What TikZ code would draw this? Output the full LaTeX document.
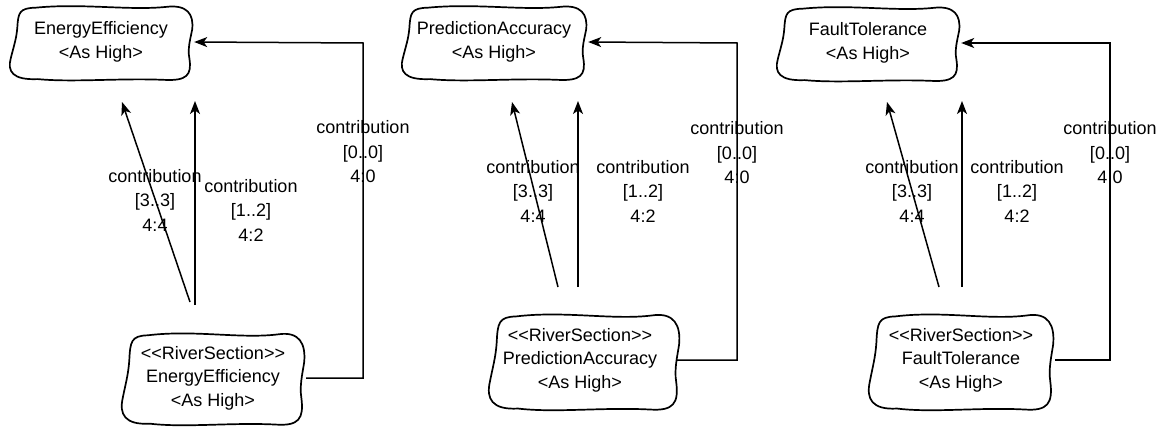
\documentclass[tikz,border=0pt]{standalone}
\usepackage{fontspec}
\setmainfont{Liberation Sans}
\usetikzlibrary{arrows.meta,calc}
\tikzset{
  boxline/.style={line width=1.7pt, line join=round},
  txt/.style={align=center, inner sep=0pt, font=\fontsize{18}{23.5}\selectfont},
  lbl/.style={align=center, inner sep=0pt, font=\fontsize{18}{24.5}\selectfont},
  conn/.style={line width=1.5pt},
  arr/.style={conn, -{Stealth[length=13pt,width=10pt,inset=3.5pt]}}
}
\newcommand{\wavybox}[4]{%
  \begin{scope}[shift={(#1,#2)},xscale=#3,yscale=#4]
  \draw[boxline] (-0.7,-0.93) .. controls (-0.2,-1.05) and (0.3,-0.85) .. (0.7,-0.95)
   .. controls (0.93,-1.02) and (1.0,-0.75) .. (0.98,-0.35)
   .. controls (0.96,-0.1) and (0.93,0.15) .. (0.95,0.4)
   .. controls (0.98,0.85) and (0.92,1.0) .. (0.68,0.97)
   .. controls (0.2,0.92) and (-0.3,1.04) .. (-0.68,0.95)
   .. controls (-0.95,0.98) and (-1.01,0.75) .. (-0.97,0.4)
   .. controls (-0.94,0.1) and (-0.91,-0.1) .. (-0.9,-0.4)
   .. controls (-0.89,-0.8) and (-0.88,-0.92) .. (-0.7,-0.93) -- cycle;
  \end{scope}}
\begin{document}
\begin{tikzpicture}[x=1pt,y=-1pt]
\useasboundingbox (0,0) rectangle (1165,428);
% ---------- group 1 ----------
\wavybox{101}{43}{93}{38}
\node[txt, minimum width=186pt, minimum height=76pt] (t1) at (101,42) {EnergyEfficiency\\<As High>};
\wavybox{213}{379}{93}{47}
\node[txt, minimum width=186pt, minimum height=94pt] (b1) at (213,378) {<\kern0pt<RiverSection>\kern0pt>\\EnergyEfficiency\\<As High>};
\coordinate (s1a) at (190,302); \coordinate (e1a) at (122,102);
\coordinate (s1b) at (195,305); \coordinate (e1b) at (195,101);
\coordinate (k1) at (363,43);
\draw[arr] (s1a) -- (e1a);
\draw[arr] (s1b) -- (e1b);
\draw[arr] (b1.east) -| (k1) -- (t1.east);
\node[lbl] (l1a) at (155,200) {contribution\\{[3..3]}\\4:4};
\node[lbl] (l1b) at (251,210) {contribution\\{[1..2]}\\4:2};
\node[lbl] (l1c) at (363,152) {contribution\\{[0..0]}\\4:0};
% ---------- group 2 ----------
\wavybox{494}{43}{94}{38}
\node[txt, minimum width=188pt, minimum height=76pt] (t2) at (494,42) {PredictionAccuracy\\<As High>};
\wavybox{584}{362}{97}{49}
\node[txt, minimum width=194pt, minimum height=98pt] (b2) at (580,360) {<\kern0pt<RiverSection>\kern0pt>\\PredictionAccuracy\\<As High>};
\coordinate (s2a) at (558,287); \coordinate (e2a) at (512,102);
\coordinate (s2b) at (578,287); \coordinate (e2b) at (578,101);
\coordinate (k2) at (737,43);
\draw[arr] (s2a) -- (e2a);
\draw[arr] (s2b) -- (e2b);
\draw[arr] (b2.east) -| (k2) -- (t2.east);
\node[lbl] (l2a) at (533,191) {contribution\\{[3..3]}\\4:4};
\node[lbl] (l2b) at (643,191) {contribution\\{[1..2]}\\4:2};
\node[lbl] (l2c) at (737,153) {contribution\\{[0..0]}\\4:0};
% ---------- group 3 ----------
\wavybox{868}{44}{93}{38}
\node[txt, minimum width=186pt, minimum height=76pt] (t3) at (868,43) {FaultTolerance\\<As High>};
\wavybox{961}{362}{94}{49}
\node[txt, minimum width=188pt, minimum height=98pt] (b3) at (961,360) {<\kern0pt<RiverSection>\kern0pt>\\FaultTolerance\\<As High>};
\coordinate (s3a) at (939,287); \coordinate (e3a) at (887,102);
\coordinate (s3b) at (962,287); \coordinate (e3b) at (962,101);
\coordinate (k3) at (1110,43);
\draw[arr] (s3a) -- (e3a);
\draw[arr] (s3b) -- (e3b);
\draw[arr] (b3.east) -| (k3) -- (t3.east);
\node[lbl] (l3a) at (912,191) {contribution\\{[3..3]}\\4:4};
\node[lbl] (l3b) at (1017,191) {contribution\\{[1..2]}\\4:2};
\node[lbl] (l3c) at (1110,153) {contribution\\{[0..0]}\\4:0};
\end{tikzpicture}
\end{document}
